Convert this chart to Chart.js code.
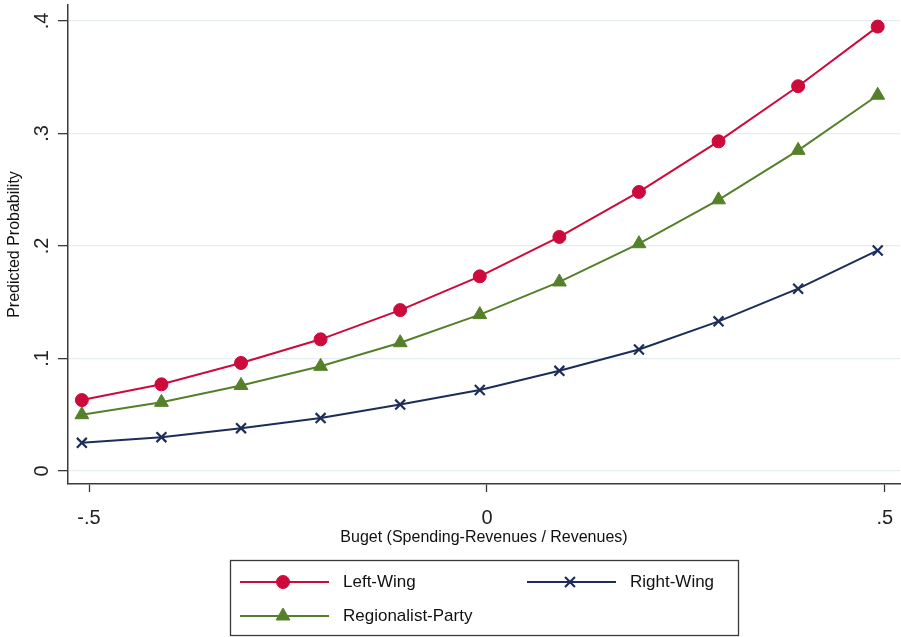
<!DOCTYPE html>
<html>
<head>
<meta charset="utf-8">
<script src="https://cdn.jsdelivr.net/npm/chart.js@4"></script>
<style>
  html, body { margin: 0; background: #fff; }
</style>
</head>
<body>
<canvas id="chart" width="901" height="637"></canvas>
<script>
// values
const budget = [-0.509, -0.409, -0.309, -0.209, -0.109, -0.009, 0.091, 0.191, 0.291, 0.391, 0.491];
const leftWing = [0.063, 0.077, 0.096, 0.117, 0.143, 0.173, 0.208, 0.248, 0.293, 0.342, 0.395];
const regionalist = [0.050, 0.061, 0.076, 0.093, 0.114, 0.139, 0.168, 0.202, 0.241, 0.285, 0.334];
const rightWing = [0.025, 0.030, 0.038, 0.047, 0.059, 0.072, 0.089, 0.108, 0.133, 0.162, 0.196];
const xTicks = [-0.5, 0, 0.5];
const xTickLabels = ['-.5', '0', '.5'];
const yTicks = [0, 0.1, 0.2, 0.3, 0.4];
const yTickLabels = ['0', '.1', '.2', '.3', '.4'];

const font = '"Liberation Sans", Arial, sans-serif';
const red = '#cc0a3c';
const green = '#55802a';
const navy = '#1c2d5a';
const axisColor = '#3a3a3a';

const toPoints = (vals) => vals.map((v, i) => ({x: budget[i], y: v}));

const datasets = [
    {label: 'Left-Wing', data: toPoints(leftWing), borderColor: red, backgroundColor: red,
     pointStyle: 'circle', pointRadius: 6.5, legendCol: 0, legendRow: 0},
    {label: 'Right-Wing', data: toPoints(rightWing), borderColor: navy, backgroundColor: navy,
     pointStyle: 'crossRot', pointRadius: 7, pointBorderWidth: 2.2, legendCol: 1, legendRow: 0},
    {label: 'Regionalist-Party', data: toPoints(regionalist), borderColor: green, backgroundColor: green,
     pointStyle: 'triangle', pointRadius: 8, legendCol: 0, legendRow: 1}
];
datasets.forEach((d) => {
    d.borderWidth = 2;
    d.tension = 0;
    d.fill = false;
    d.clip = 12;
    if (!d.pointBorderWidth) d.pointBorderWidth = 1;
});

// tick labels drawn by hand: y ones are rotated (chart.js can't on a vertical axis),
// and the built-in ones add padding that pushes the plot area in
const tickLabels = {
    id: 'tickLabels',
    afterDraw(chart) {
        const ctx = chart.ctx;
        const x = chart.scales.x;
        const y = chart.scales.y;
        ctx.save();
        ctx.font = '20px ' + font;
        ctx.fillStyle = '#222';
        ctx.textAlign = 'center';
        ctx.textBaseline = 'middle';
        y.ticks.forEach((t, i) => {
            ctx.save();
            ctx.translate(42, y.getPixelForValue(t.value));
            ctx.rotate(-Math.PI / 2);
            ctx.fillText(yTickLabels[i], 0, 0);
            ctx.restore();
        });
        x.ticks.forEach((t, i) => {
            ctx.fillText(xTickLabels[i], x.getPixelForValue(t.value), 518);
        });
        ctx.restore();
    }
};

// boxed legend under the plot, two columns
const boxLegend = {
    id: 'boxLegend',
    afterDraw(chart) {
        const ctx = chart.ctx;
        ctx.save();
        ctx.strokeStyle = axisColor;
        ctx.lineWidth = 1.3;
        ctx.strokeRect(230.5, 560.5, 508, 75);
        ctx.font = '17px ' + font;
        ctx.textBaseline = 'middle';
        ctx.textAlign = 'left';
        chart.data.datasets.forEach((d) => {
            const x0 = d.legendCol === 0 ? 240 : 527;
            const yy = d.legendRow === 0 ? 582 : 616;
            ctx.strokeStyle = d.borderColor;
            ctx.fillStyle = d.backgroundColor;
            ctx.lineWidth = 2;
            ctx.beginPath();
            ctx.moveTo(x0, yy);
            ctx.lineTo(x0 + 89, yy);
            ctx.stroke();
            ctx.lineWidth = d.pointBorderWidth;
            Chart.helpers.drawPoint(ctx, {pointStyle: d.pointStyle, radius: d.pointRadius, borderWidth: d.pointBorderWidth, rotation: 0}, x0 + 43, yy);
            ctx.fillStyle = '#111';
            ctx.fillText(d.label, x0 + 103, yy);
        });
        ctx.restore();
    }
};

new Chart(document.getElementById('chart'), {
    type: 'line',
    data: {datasets: datasets},
    options: {
        responsive: false,
        animation: false,
        layout: {autoPadding: false, padding: {left: 0, top: 5, right: 1, bottom: 83}},
        plugins: {legend: {display: false}, tooltip: {enabled: false}},
        scales: {
            x: {
                type: 'linear',
                min: -0.5264,
                max: 0.519,
                afterBuildTicks: (s) => { s.ticks = xTicks.map((v) => ({value: v})); },
                afterFit: (s) => { s.height = 70; },
                ticks: {callback: () => '', font: {size: 1}, padding: 0, maxRotation: 0},
                grid: {drawOnChartArea: false, tickLength: 8, tickColor: axisColor, tickWidth: 1.3},
                border: {color: axisColor, width: 1.5},
                title: {
                    display: true,
                    text: 'Buget (Spending-Revenues / Revenues)',
                    font: {family: font, size: 16},
                    color: '#111',
                    padding: {top: 0, bottom: 7}
                }
            },
            y: {
                type: 'linear',
                min: -0.0116,
                max: 0.4142,
                afterBuildTicks: (s) => { s.ticks = yTicks.map((v) => ({value: v})); },
                afterFit: (s) => { s.width = 68; },
                ticks: {callback: () => '', font: {size: 1}, padding: 0},
                grid: {color: '#e4eef0', lineWidth: 1.3, tickLength: 10, tickColor: axisColor, tickWidth: 1.3},
                border: {color: axisColor, width: 1.5},
                title: {
                    display: true,
                    text: 'Predicted Probability',
                    font: {family: font, size: 16},
                    color: '#111',
                    padding: {top: 5, bottom: 0}
                }
            }
        }
    },
    plugins: [tickLabels, boxLegend]
});
</script>
</body>
</html>
